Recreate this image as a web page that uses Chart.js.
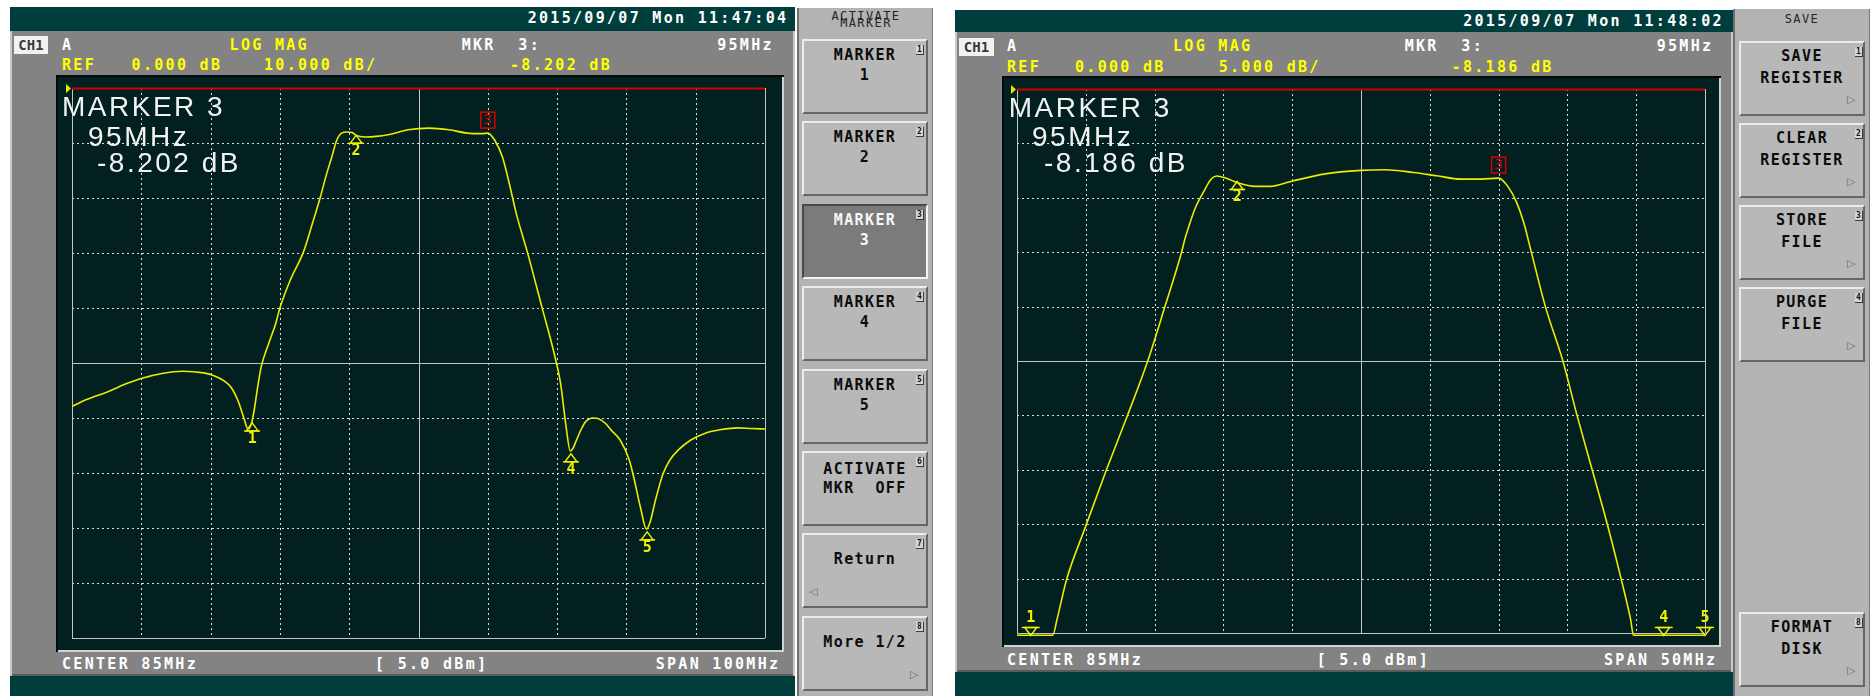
<!DOCTYPE html>
<html><head><meta charset="utf-8">
<script src="https://cdn.jsdelivr.net/npm/chart.js@4.4.1/dist/chart.umd.min.js"></script>
<style>
html,body{margin:0;padding:0;background:#fff;}
body{width:1870px;height:696px;position:relative;overflow:hidden;font-family:"DejaVu Sans Mono",monospace;}
.box{position:absolute;}
.teal{background:#003e3d;}
.frame{background:#838383;box-shadow:inset 2px 0 0 #c9c9c9, inset -2px 0 0 #c9c9c9, inset 0 -2px 0 #5a5a5a;}
.col{background:#b3b3b3;box-shadow:inset 2px 0 0 #6f6f6f, inset -1px 0 0 #7a7a7a;}
.panel{background:#01201f;box-shadow:inset 2px 2px 0 #080808, inset -2px -2px 0 #d2d2d2;}
.t{position:absolute;white-space:pre;font-family:"DejaVu Sans Mono",monospace;font-weight:bold;font-size:15px;letter-spacing:2.3px;line-height:18px;height:18px;}
.big{position:absolute;white-space:pre;font-family:"Liberation Sans",Arial,sans-serif;font-size:28px;line-height:28px;height:28px;letter-spacing:2.5px;color:#f2f2f2;}
.ch{position:absolute;background:#f2f2f2;color:#3a3a3a;font:bold 14px "DejaVu Sans Mono",monospace;line-height:18px;text-align:center;}
.btn{position:absolute;box-sizing:border-box;background:#b8b8b8;border-style:solid;border-width:2px;border-color:#ececec #666 #666 #ececec;}
.btn.on{background:#7b7b7b;border-color:#4a4a4a #f4f4f4 #f4f4f4 #4a4a4a;}
.bl{position:absolute;left:0;width:100%;text-align:center;white-space:pre;font:bold 15px "DejaVu Sans Mono",monospace;letter-spacing:1.4px;line-height:16px;color:#0c0c0c;}
.btn.on .bl{color:#f6f6f6;}
.nb{position:absolute;font:bold 8px "DejaVu Sans Mono",monospace;line-height:9px;color:#111;background:#d6d6d6;border-right:1px solid #3a3a3a;border-bottom:1px solid #3a3a3a;padding:0 1px;}
.ar{position:absolute;font:11px "DejaVu Sans",sans-serif;line-height:11px;color:#6a6a6a;}
.ttl{position:absolute;white-space:pre;font:12px "DejaVu Sans Mono",monospace;letter-spacing:1.4px;line-height:12px;color:#262626;transform:translateX(-50%);}
</style>
</head>
<body>
<script>
// ---------------- DATA ----------------
// Left screen: CENTER 85 MHz, SPAN 100 MHz, REF 0 dB, 10 dB/div
const leftFreqMHz = [35,37,40,43,45,48,51,54,55.5,57,58,59,59.8,60.4,60.9,61.3,61.8,62.3,63.4,64.4,65,66.5,68.4,69.7,70.8,71.7,72.5,73.2,73.9,74.7,75.4,76.1,77.3,78.9,80.6,83.5,86.5,89.4,92,94.2,95,96,97.1,98.2,99.1,100.7,102.8,104.7,105.5,106.3,106.9,107.3,107.8,108.5,109.1,110.2,110.9,112,112.8,114.1,115.4,116.1,117,117.9,118.4,119.2,120.3,121.3,122.5,124.3,126.3,128.7,131.1,133,135];
const leftLogMagDb = [-57.9,-56.7,-55.3,-53.7,-52.8,-51.9,-51.5,-51.8,-52.3,-53.3,-54.5,-57.0,-60.0,-62.0,-61.0,-58.5,-54.3,-50.7,-46.4,-42.8,-40.0,-34.9,-29.8,-24.6,-20.0,-15.8,-12.5,-9.5,-8.2,-8.0,-8.1,-8.7,-8.9,-8.8,-8.5,-7.6,-7.3,-7.6,-8.2,-8.3,-8.2,-9.5,-12.5,-17.9,-22.8,-29.8,-39.8,-48.9,-53.7,-61.6,-66.0,-65.5,-64.0,-62.0,-60.7,-60.0,-60.1,-61.0,-62.2,-64.0,-67.6,-71.0,-76.1,-80.2,-79.0,-74.9,-70.1,-67.6,-65.8,-64.0,-62.8,-62.1,-61.8,-61.9,-62.0];
const leftFreqGrid = [35,45,55,65,75,85,95,105,115,125,135];
const leftDbGrid = [0,-10,-20,-30,-40,-50,-60,-70,-80,-90,-100];
const leftMarkerFreqMHz = [61,76,95,107,118];
const leftMarkerDb = [-60.9,-8.6,-8.202,-66.5,-80.7];

// Right screen: CENTER 85 MHz, SPAN 50 MHz, REF 0 dB, 5 dB/div (trace pinned at bottom edge where off-scale)
const rightFreqMHz = [60,62.6,62.9,63.6,64.9,66.5,68,69.5,70.75,71.96,72.2,72.6,73.0,73.5,74.1,74.5,75.2,76,77.3,78.4,79.9,82.4,85,86.7,88.8,90.5,92.25,93.75,95,95.67,96.3,96.83,97.3,98.4,99.67,100.7,101.8,102.9,103.9,104.6,104.8,110];
const rightLogMagDb = [-50.2,-50.2,-48.8,-45.1,-40.5,-35,-30.1,-25,-20,-15,-13.8,-12.2,-10.8,-9.6,-8.3,-8.0,-8.2,-8.6,-8.95,-8.95,-8.5,-7.8,-7.48,-7.42,-7.67,-7.97,-8.28,-8.28,-8.19,-8.95,-10.4,-12.3,-14.6,-20,-25,-30,-35,-40,-45,-48.8,-50.2,-50.2];
const rightFreqGrid = [60,65,70,75,80,85,90,95,100,105,110];
const rightDbGrid = [0,-5,-10,-15,-20,-25,-30,-35,-40,-45,-50];
const rightMarkerFreqMHz = [61,76,95,107,110];
const rightMarkerDb = [-60.9,-8.5,-8.186,-66.5,-80.7];
const activeMarker = 2;

// ---------------- helpers ----------------
function el(cls, x, y, w, h, parent){
  const d=document.createElement('div'); d.className='box '+cls;
  d.style.left=x+'px'; d.style.top=y+'px'; d.style.width=w+'px'; d.style.height=h+'px';
  (parent||document.body).appendChild(d); return d;
}
function T(str, x, yc, color, align){
  const d=document.createElement('div'); d.className='t'; d.textContent=str;
  d.style.top=(yc-9)+'px'; d.style.color=color||'#fff';
  if(align==='r'){ d.style.left=(x+2.3)+'px'; d.style.transform='translateX(-100%)'; }
  else d.style.left=x+'px';
  document.body.appendChild(d); return d;
}
function BIG(str, x, baseline){
  const d=document.createElement('div'); d.className='big'; d.textContent=str;
  d.style.left=x+'px'; d.style.top=(baseline-23.7)+'px'; document.body.appendChild(d);
}
function CH(x,y,w,h){ const d=el('ch',x,y,w,h); d.className='ch'; d.textContent='CH1'; d.style.lineHeight=h+'px'; }

// ---------------- screen chrome ----------------
el('teal',10,7,785,24);
el('frame',10,31,785,645);
el('teal',10,676,785,20);
el('panel',56,75,728,577);
el('teal',955,10,778,22);
el('frame',955,32,778,640);
el('teal',955,672,778,24);
el('panel',1002,76,719,571);
el('col',797,8,136,688);
el('col',1733,9,137,687);

// ---------------- charts ----------------
function analyzerPlugin(cfg){
  function ln(ctx,x1,y1,x2,y2){ctx.beginPath();ctx.moveTo(x1,y1);ctx.lineTo(x2,y2);ctx.stroke();}
  return {
    id:'analyzer',
    beforeDatasetsDraw(chart){
      const ctx=chart.ctx, a=chart.chartArea, xs=chart.scales.x, ys=chart.scales.y;
      const nx=cfg.xGrid.length-1, ny=cfg.yGrid.length-1;
      ctx.save(); ctx.lineWidth=1;
      ctx.strokeStyle='#dcdcdc'; ctx.setLineDash([2,3]);
      cfg.xGrid.forEach((v,i)=>{ if(i===0||i===nx||i===nx/2) return; const p=Math.round(xs.getPixelForValue(v))+0.5; ln(ctx,p,a.top,p,a.bottom); });
      cfg.yGrid.forEach((v,i)=>{ if(i===0||i===ny||i===ny/2) return; const p=Math.round(ys.getPixelForValue(v))+0.5; ln(ctx,a.left,p,a.right,p); });
      ctx.setLineDash([]); ctx.strokeStyle='#c4c4c4';
      [0,nx/2,nx].forEach(i=>{ const p=Math.round(xs.getPixelForValue(cfg.xGrid[i]))+0.5; ln(ctx,p,a.top,p,a.bottom); });
      [ny/2,ny].forEach(i=>{ const p=Math.round(ys.getPixelForValue(cfg.yGrid[i]))+0.5; ln(ctx,a.left,p,a.right,p); });
      const r=Math.round(ys.getPixelForValue(cfg.yGrid[0]))+0.5;
      ctx.strokeStyle='#d00000'; ctx.lineWidth=2; ln(ctx,a.left,r,a.right,r);
      ctx.fillStyle='#e8e800'; ctx.beginPath(); ctx.moveTo(a.left-6,r-4.5); ctx.lineTo(a.left-1,r); ctx.lineTo(a.left-6,r+4.5); ctx.closePath(); ctx.fill();
      ctx.restore();
    },
    afterDatasetsDraw(chart){
      const ctx=chart.ctx, xs=chart.scales.x, ys=chart.scales.y;
      ctx.save(); ctx.lineWidth=1.4; ctx.textAlign='center'; ctx.textBaseline='middle';
      cfg.mFreq.forEach((f,i)=>{
        const v=cfg.mDb[i]; const mx=xs.getPixelForValue(f);
        const clamped = v < ys.min;
        if(i===activeMarker && !clamped){
          const my=ys.getPixelForValue(v);
          ctx.strokeStyle='#e00000'; ctx.strokeRect(mx-7,my-21,14,16);
          ctx.fillStyle='#e00000'; ctx.font='14px "DejaVu Sans Mono"'; ctx.fillText(String(i+1),mx,my-13);
          return;
        }
        ctx.strokeStyle='#f0f000'; ctx.fillStyle='#f0f000'; ctx.font='bold 15px "DejaVu Sans Mono"';
        if(clamped){
          const my=ys.getPixelForValue(ys.min)+2.5;
          ctx.beginPath(); ctx.moveTo(mx-6,my-8); ctx.lineTo(mx+6,my-8); ctx.lineTo(mx,my); ctx.closePath(); ctx.stroke();
          ln(ctx,mx-9,my-8,mx+9,my-8);
          ctx.fillText(String(i+1),mx,my-17);
        } else {
          const my=ys.getPixelForValue(v);
          ctx.beginPath(); ctx.moveTo(mx,my); ctx.lineTo(mx+6,my+8); ctx.lineTo(mx-6,my+8); ctx.closePath(); ctx.stroke();
          ln(ctx,mx-8,my+8,mx+8,my+8);
          ctx.fillText(String(i+1),mx,my+16);
        }
      });
      ctx.restore();
    }
  };
}
function makeChart(cfg){
  const c=document.createElement('canvas');
  c.width=cfg.w; c.height=cfg.h;
  c.style.cssText='position:absolute;left:'+cfg.x+'px;top:'+cfg.y+'px;width:'+cfg.w+'px;height:'+cfg.h+'px;';
  document.body.appendChild(c);
  new Chart(c,{
    type:'line',
    data:{datasets:[{data:cfg.freq.map((f,i)=>({x:f,y:cfg.db[i]})),borderColor:'#ecec00',borderWidth:1.6,pointRadius:0,cubicInterpolationMode:'monotone',fill:false,clip:4}]},
    options:{responsive:false,animation:false,events:[],devicePixelRatio:1,
      layout:{padding:cfg.pad},
      plugins:{legend:{display:false},tooltip:{enabled:false}},
      scales:{x:{type:'linear',min:cfg.xGrid[0],max:cfg.xGrid[cfg.xGrid.length-1],display:false},
              y:{type:'linear',min:cfg.yGrid[cfg.yGrid.length-1],max:cfg.yGrid[0],display:false}}},
    plugins:[analyzerPlugin(cfg)]
  });
}
makeChart({x:56,y:75,w:728,h:577,pad:{left:16,top:13,right:19,bottom:14},freq:leftFreqMHz,db:leftLogMagDb,xGrid:leftFreqGrid,yGrid:leftDbGrid,mFreq:leftMarkerFreqMHz,mDb:leftMarkerDb});
makeChart({x:1002,y:76,w:719,h:571,pad:{left:15,top:13,right:16,bottom:14},freq:rightFreqMHz,db:rightLogMagDb,xGrid:rightFreqGrid,yGrid:rightDbGrid,mFreq:rightMarkerFreqMHz,mDb:rightMarkerDb});

// ---------------- texts ----------------
const Y='#ffff00';
T('2015/09/07 Mon 11:47:04',786,18,'#fff','r');
CH(14,36,34,18);
T('A',62,44.5); T('LOG MAG',229.6,44.5,Y); T('MKR  3:',461.7,44.5); T('95MHz',771.5,44.5,'#fff','r');
T('REF',62,65,Y); T('0.000 dB',131.6,65,Y); T('10.000 dB/',264,65,Y); T('-8.202 dB',510,65,Y);
T('CENTER 85MHz',62,664); T('[ 5.0 dBm]',375,664); T('SPAN 100MHz',778,664,'#fff','r');
BIG('MARKER 3',62,117); BIG('95MHz',88,147); BIG('-8.202 dB',97,173);
T('2015/09/07 Mon 11:48:02',1721.5,20.5,'#fff','r');
CH(959,38,35,18);
T('A',1007,46); T('LOG MAG',1173,46,Y); T('MKR  3:',1404.7,46); T('95MHz',1711,46,'#fff','r');
T('REF',1007,66.7,Y); T('0.000 dB',1075,66.7,Y); T('5.000 dB/',1218.7,66.7,Y); T('-8.186 dB',1451.6,66.7,Y);
T('CENTER 85MHz',1007,660); T('[ 5.0 dBm]',1316.7,660); T('SPAN 50MHz',1715,660,'#fff','r');
BIG('MARKER 3',1008.7,118); BIG('95MHz',1032,147); BIG('-8.186 dB',1044,173);

// ---------------- softkeys ----------------
function title(str,x,y){const d=document.createElement('div');d.className='ttl';d.textContent=str;d.style.left=x+'px';d.style.top=(y-6)+'px';document.body.appendChild(d);}
title('ACTIVATE',866,16); title('MARKER',866,23);
title('SAVE',1802,18.5);
function key(x,y,lines,num,opts){
  opts=opts||{};
  const b=el('btn'+(opts.on?' on':''),x,y,126,75);
  lines.forEach(l=>{const s=document.createElement('div');s.className='bl';s.textContent=l[0];s.style.top=(l[1]-8-2)+'px';b.appendChild(s);});
  const n=document.createElement('div');n.className='nb';n.textContent=String(num);n.style.left=(opts.nbx||112)+'px';n.style.top='4px';b.appendChild(n);
  if(opts.arrow){const a=document.createElement('div');a.className='ar';a.textContent=opts.arrow==='l'?'◁':'▷';a.style.top='51px';a.style.left=(opts.arrow==='l'?'5px':'106px');b.appendChild(a);}
}
const lTop=39, step=82.4;
key(802,lTop,[['MARKER',16],['1',36]],1);
key(802,lTop+step,[['MARKER',16],['2',36]],2);
key(802,lTop+2*step,[['MARKER',16],['3',36]],3,{on:true});
key(802,lTop+3*step,[['MARKER',16],['4',36]],4);
key(802,lTop+4*step,[['MARKER',16],['5',36]],5);
key(802,lTop+5*step,[['ACTIVATE',18],['MKR  OFF',37]],6);
key(802,lTop+6*step,[['Return',26]],7,{arrow:'l'});
key(802,lTop+7*step,[['More 1/2',26]],8,{arrow:'r'});
const rTop=40.7, rStep=82;
key(1739,rTop,[['SAVE',15],['REGISTER',37]],1,{arrow:'r',nbx:114});
key(1739,rTop+rStep,[['CLEAR',15],['REGISTER',37]],2,{arrow:'r',nbx:114});
key(1739,rTop+2*rStep,[['STORE',15],['FILE',37]],3,{arrow:'r',nbx:114});
key(1739,rTop+3*rStep,[['PURGE',15],['FILE',37]],4,{arrow:'r',nbx:114});
key(1739,612,[['FORMAT',15],['DISK',37]],8,{arrow:'r',nbx:114});
</script>
</body></html>
